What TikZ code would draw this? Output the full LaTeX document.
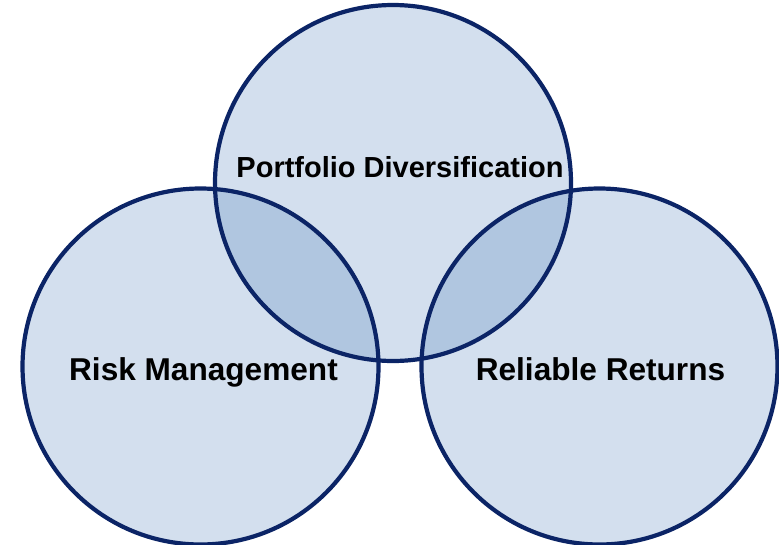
\documentclass[tikz,border=0pt]{standalone}
\usepackage{fontspec}
\setmainfont{Liberation Sans}
\definecolor{circfill}{HTML}{D3DFEE}
\definecolor{overfill}{HTML}{B0C6E0}
\definecolor{navy}{HTML}{0B2466}
\begin{document}
\begin{tikzpicture}[x=1pt,y=-1pt,
  ring/.style={draw=navy,line width=4.2pt},
  lbl/.style={font=\bfseries\fontsize{29}{33}\selectfont,anchor=base,inner sep=0pt},
  biglbl/.style={lbl,font=\bfseries\fontsize{31.6}{36}\selectfont}]
\useasboundingbox (0,0) rectangle (779,544);
\coordinate (ct) at (393,183);
\coordinate (cl) at (200.5,366.5);
\coordinate (cr) at (599.5,366.5);
\def\rr{178}
% fills
\fill[circfill] (ct) circle (\rr);
\fill[circfill] (cl) circle (\rr);
\fill[circfill] (cr) circle (\rr);
% overlaps
\begin{scope}
  \clip (ct) circle (\rr);
  \fill[overfill] (cl) circle (\rr);
  \fill[overfill] (cr) circle (\rr);
\end{scope}
% outlines
\draw[ring] (ct) circle (\rr);
\draw[ring] (cl) circle (\rr);
\draw[ring] (cr) circle (\rr);
% labels
\node[lbl] (pd) at (400,177) {Portfolio Diversification};
\node[biglbl] (rm) at (203.5,380) {Risk Management};
\node[biglbl] (rr) at (600.5,380) {Reliable Returns};
\end{tikzpicture}
\end{document}
